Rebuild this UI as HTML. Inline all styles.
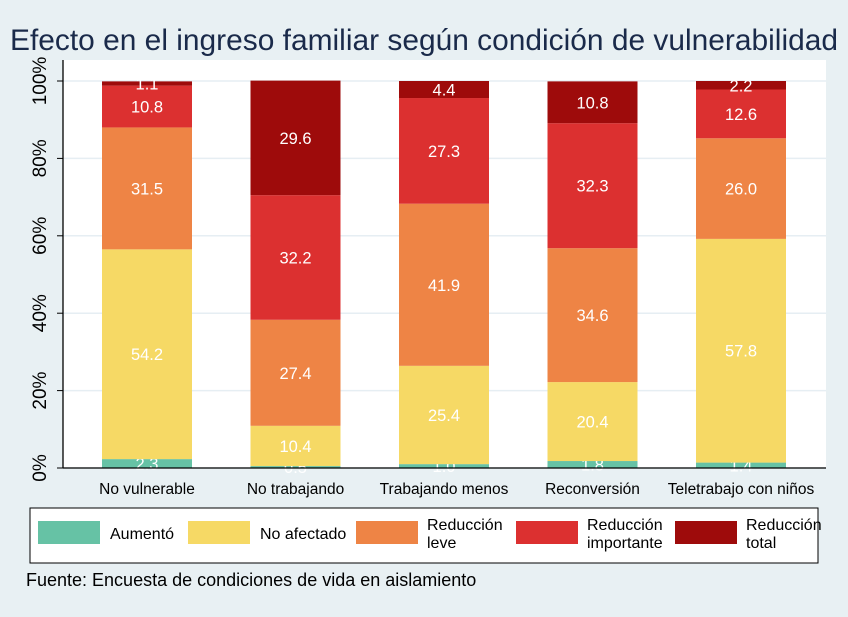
<!DOCTYPE html>
<html><head><meta charset="utf-8"><style>
body{margin:0;background:#e8f0f3;}
svg{display:block;font-family:"Liberation Sans",Arial,sans-serif;}
</style></head><body>
<svg width="848" height="617" viewBox="0 0 848 617">
<rect width="848" height="617" fill="#e8f0f3"/>
<text x="10" y="50" font-size="29.5" textLength="828" lengthAdjust="spacingAndGlyphs" fill="#1a2a4a">Efecto en el ingreso familiar según condición de vulnerabilidad</text>
<rect x="63" y="60" width="763" height="408" fill="#fff"/>
<g id="grid"></g>
<g id="bars"></g>
<line x1="63" y1="60" x2="63" y2="468" stroke="#000" stroke-width="1.3"/>
<line x1="63" y1="468" x2="826" y2="468" stroke="#000" stroke-width="1.3"/>
<g id="yticks"></g>
<g id="xlabels"></g>
<rect x="30" y="508" width="788" height="55" fill="#fff" stroke="#000" stroke-width="1"/>
<g id="legend"></g>
<text x="26" y="586" font-size="18" fill="#000">Fuente: Encuesta de condiciones de vida en aislamiento</text>
</svg>
<script>
const categories=["No vulnerable","No trabajando","Trabajando menos","Reconversión","Teletrabajo con niños"];
const aumento=[2.3,0.5,1.0,1.8,1.4];
const noAfectado=[54.2,10.4,25.4,20.4,57.8];
const redLeve=[31.5,27.4,41.9,34.6,26.0];
const redImportante=[10.8,32.2,27.3,32.3,12.6];
const redTotal=[1.1,29.6,4.4,10.8,2.2];
const yTicks=[0,20,40,60,80,100];
const seriesNames=["Aumentó","No afectado","Reducción leve","Reducción importante","Reducción total"];
const series=[aumento,noAfectado,redLeve,redImportante,redTotal];
const colors=["#66c2a5","#f6d965","#ee8445","#dc3030","#9e0b0b"];
const NS="http://www.w3.org/2000/svg";
const y=v=>468-v*3.87;
const x=i=>147+i*148.5;
function mk(t,a,p){const e=document.createElementNS(NS,t);for(const k in a)e.setAttribute(k,a[k]);p.appendChild(e);return e;}
const grid=document.getElementById('grid'),yt=document.getElementById('yticks');
yTicks.forEach(v=>{
 const g=mk('line',{x1:63,x2:826,y1:y(v),y2:y(v),stroke:'#e6eef3','stroke-width':1.5},grid);
 
 
 const t=mk('line',{x1:57,x2:63,y1:y(v),y2:y(v),stroke:'#000'},yt);
 
 
 const l=mk('text',{x:0,y:0,'font-size':19,'text-anchor':'middle',transform:`translate(46,${y(v)}) rotate(-90)`},yt);
 l.textContent=v+'%';
 
 
});
const bars=document.getElementById('bars');
categories.forEach((c,i)=>{
 let cum=0;
 series.forEach((s,j)=>{
  const v=s[i];const y0=y(cum),y1=y(cum+v);cum+=v;
  const r=mk('rect',{x:x(i)-45,y:y1,width:90,height:y0-y1,fill:colors[j]},bars);
  
  
  const t=mk('text',{x:x(i),y:(y0+y1)/2+6,'text-anchor':'middle','font-size':16.5,fill:'#fff'},bars);
  t.textContent=v.toFixed(1);
  
  
 });
 const xl=mk('text',{x:x(i),y:494,'text-anchor':'middle','font-size':15.5,fill:'#000'},document.getElementById('xlabels'));
 xl.textContent=c;
 
 
});
const lg=document.getElementById('legend');
const lx=[38,188,356,516,675];
seriesNames.forEach((n,j)=>{
 const r=mk('rect',{x:lx[j],y:521,width:62,height:23,fill:colors[j]},lg);
 
 
 const parts=n.split(' ');
 if(parts.length===1||n==="No afectado"){
  const t=mk('text',{x:lx[j]+72,y:539,'font-size':16},lg);t.textContent=n;
  
  
 }else{
  const t=mk('text',{x:lx[j]+71,y:530,'font-size':16},lg);
  
  
  const a=mk('tspan',{x:lx[j]+71},t);a.textContent=parts[0];
  const b=mk('tspan',{x:lx[j]+71,dy:18},t);b.textContent=parts[1];
 }
});
</script>
</body></html>
